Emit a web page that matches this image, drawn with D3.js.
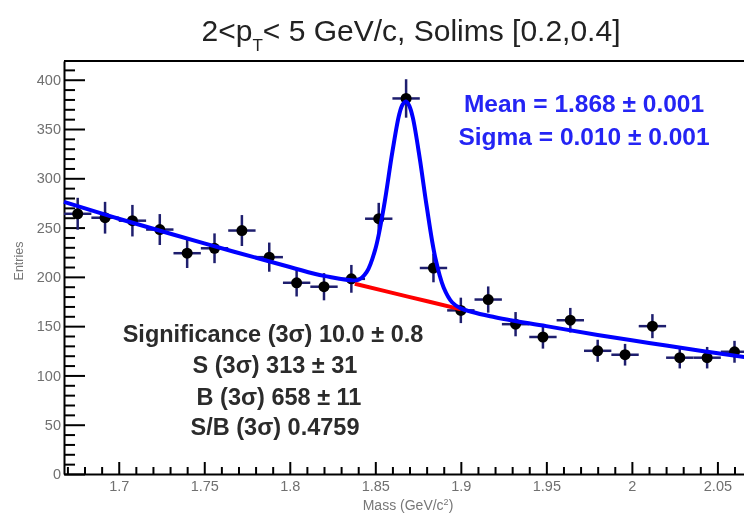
<!DOCTYPE html>
<html>
<head>
<meta charset="utf-8">
<script src="https://cdn.jsdelivr.net/npm/d3@7"></script>
<style>
  html, body { margin: 0; padding: 0; background: #fff; }
  svg { display: block; font-family: "Liberation Sans", Arial, sans-serif; filter: blur(0.4px); }
</style>
</head>
<body>
<svg id="chart" width="744" height="517"></svg>
<script>
// histogram bins (GeV/c^2) and entries
const massBins = [1.676, 1.692, 1.708, 1.724, 1.740, 1.756, 1.772, 1.788, 1.804, 1.820,
                  1.836, 1.852, 1.868, 1.884, 1.900, 1.916, 1.932, 1.948, 1.964, 1.980,
                  1.996, 2.012, 2.028, 2.044, 2.060];
const counts = [264, 260, 257, 248, 224, 229, 247, 220, 194, 190,
                198, 259, 381, 209, 166, 177, 152, 139, 156, 125,
                121, 150, 118, 118, 124];
const countErr = [16.2, 16.1, 16.0, 15.7, 15.0, 15.1, 15.7, 14.8, 13.9, 13.8,
                  14.1, 16.1, 19.5, 14.5, 12.9, 13.3, 12.3, 11.8, 12.5, 11.2,
                  11.0, 12.2, 10.9, 10.9, 11.1];
const binHalfWidth = 0.008;

// total fit (blue) and background under the peak (red)
const fitMass  = [1.668, 1.70, 1.75, 1.80, 1.82, 1.840, 1.845, 1.850, 1.855, 1.860,
                  1.864, 1.866, 1.868, 1.870, 1.872, 1.876, 1.880, 1.885, 1.890, 1.895,
                  1.900, 1.92, 1.95, 1.98, 2.01, 2.04, 2.068];
const fitValue = [276, 259, 234, 210, 201, 197, 205, 228, 271, 327,
                  365, 375, 378, 373, 361, 320, 272, 220, 189, 174,
                  168, 159, 150, 141, 133, 125, 118];
const bgMass  = [1.838, 1.869, 1.900];
const bgValue = [193, 180, 167];

const xTicks = [1.7, 1.75, 1.8, 1.85, 1.9, 1.95, 2, 2.05];
const xTickLabels = ["1.7", "1.75", "1.8", "1.85", "1.9", "1.95", "2", "2.05"];
const yTicks = [0, 50, 100, 150, 200, 250, 300, 350, 400];

const fitLines = ["Mean = 1.868  \u00b1 0.001", "Sigma = 0.010  \u00b1 0.001"];
const statLines = ["Significance (3\u03c3) 10.0  \u00b1 0.8", "S (3\u03c3) 313  \u00b1 31",
                   "B (3\u03c3) 658  \u00b1 11", "S/B (3\u03c3) 0.4759"];

const svg = d3.select("#chart");

const x = d3.scaleLinear().domain([1.668, 2.068]).range([64, 748.2]);
const y = d3.scaleLinear().domain([0, 419]).range([474, 61]);

// frame
const frame = svg.append("g").attr("stroke", "#000").attr("stroke-width", 2).attr("fill", "none");
frame.append("line").attr("x1", x.range()[0]).attr("x2", 744).attr("y1", y(419)).attr("y2", y(419));

// y axis, ticks pointing inwards
const yMinor = d3.range(0, 420, 10).filter(v => v % 50 !== 0);
svg.append("g")
    .attr("transform", `translate(${x.range()[0]},0)`)
    .call(d3.axisLeft(y).tickValues(yMinor).tickSizeInner(-11).tickSizeOuter(0).tickFormat(""))
    .call(g => g.select(".domain").remove())
    .call(g => g.selectAll("line").attr("stroke-width", 2));

const yAxis = svg.append("g")
    .attr("transform", `translate(${x.range()[0]},0)`)
    .call(d3.axisLeft(y).tickValues(yTicks).tickSizeInner(-21).tickSizeOuter(0).tickPadding(3));
yAxis.select(".domain").attr("stroke-width", 2);
yAxis.selectAll("line").attr("stroke-width", 2);
yAxis.selectAll("text").attr("font-size", 14.5).attr("fill", "#707070")
    .attr("font-family", "Liberation Sans, Arial, sans-serif");

// x axis
const xMinor = d3.range(167, 207).map(v => v / 100).filter(v => !xTicks.some(t => Math.abs(t - v) < 1e-6));
svg.append("g")
    .attr("transform", `translate(0,${y(0)})`)
    .call(d3.axisBottom(x).tickValues(xMinor).tickSizeInner(-7).tickSizeOuter(0).tickFormat(""))
    .call(g => g.select(".domain").remove())
    .call(g => g.selectAll("line").attr("stroke-width", 2));

const xAxis = svg.append("g")
    .attr("transform", `translate(0,${y(0)})`)
    .call(d3.axisBottom(x).tickValues(xTicks).tickSizeInner(-12).tickSizeOuter(0).tickPadding(7)
      .tickFormat((d, i) => xTickLabels[i]));
xAxis.select(".domain").attr("stroke-width", 2);
xAxis.selectAll("line").attr("stroke-width", 2);
xAxis.selectAll("text").attr("font-size", 14.5).attr("fill", "#707070")
    .attr("font-family", "Liberation Sans, Arial, sans-serif");

// axis titles
svg.append("text")
    .attr("transform", "translate(23,261) rotate(-90)")
    .attr("text-anchor", "middle")
    .attr("font-size", 12.5).attr("fill", "#777")
    .text("Entries");

const xt = svg.append("text")
    .attr("x", 408).attr("y", 510)
    .attr("text-anchor", "middle")
    .attr("font-size", 14).attr("fill", "#777");
xt.append("tspan").text("Mass (GeV/c");
xt.append("tspan").attr("font-size", 9).attr("dy", -5).text("2");
xt.append("tspan").attr("dy", 5).text(")");

// title
const title = svg.append("text")
    .attr("x", 411).attr("y", 41)
    .attr("text-anchor", "middle")
    .attr("font-size", 30).attr("fill", "#222");
title.append("tspan").text("2<p");
title.append("tspan").attr("font-size", 17).attr("dy", 10).text("T");
title.append("tspan").attr("dy", -10).text("< 5 GeV/c, Solims [0.2,0.4]");

// data points
const pts = massBins.map((m, i) => ({m, c: counts[i], e: countErr[i]}));
const errG = svg.append("g").attr("stroke", "#1e1e6e").attr("stroke-width", 2.5);
errG.selectAll("line.v").data(pts).enter().append("line")
    .attr("x1", d => x(d.m)).attr("x2", d => x(d.m))
    .attr("y1", d => y(d.c - d.e)).attr("y2", d => y(d.c + d.e));
errG.selectAll("line.h").data(pts).enter().append("line")
    .attr("x1", d => x(d.m - binHalfWidth)).attr("x2", d => x(d.m + binHalfWidth))
    .attr("y1", d => y(d.c)).attr("y2", d => y(d.c));

svg.append("g").selectAll("circle").data(pts).enter().append("circle")
    .attr("cx", d => x(d.m)).attr("cy", d => y(d.c)).attr("r", 5.5)
    .attr("fill", "#000");

// fit curves
const line = d3.line().x(d => x(d[0])).y(d => y(d[1])).curve(d3.curveCatmullRom.alpha(0.5));

svg.append("path")
    .datum(bgMass.map((m, i) => [m, bgValue[i]]))
    .attr("d", line)
    .attr("fill", "none").attr("stroke", "#ff0000").attr("stroke-width", 4);

svg.append("path")
    .datum(fitMass.map((m, i) => [m, fitValue[i]]))
    .attr("d", line)
    .attr("fill", "none").attr("stroke", "#0000ff").attr("stroke-width", 4)
    .attr("stroke-linejoin", "round");

// fit parameters
svg.append("g").selectAll("text").data(fitLines).enter().append("text")
    .attr("x", 584).attr("y", (d, i) => 112 + i * 33)
    .attr("text-anchor", "middle")
    .attr("font-size", 24.5).attr("font-weight", "bold").attr("fill", "#2424f4")
    .text(d => d);

// significance box
svg.append("g").selectAll("text").data(statLines).enter().append("text")
    .attr("x", (d, i) => [273, 275, 279, 275][i]).attr("y", (d, i) => [342, 373, 405, 435][i])
    .attr("text-anchor", "middle")
    .attr("font-size", 23.5).attr("font-weight", "bold").attr("fill", "#2b2b2b")
    .text(d => d);
</script>
</body>
</html>
